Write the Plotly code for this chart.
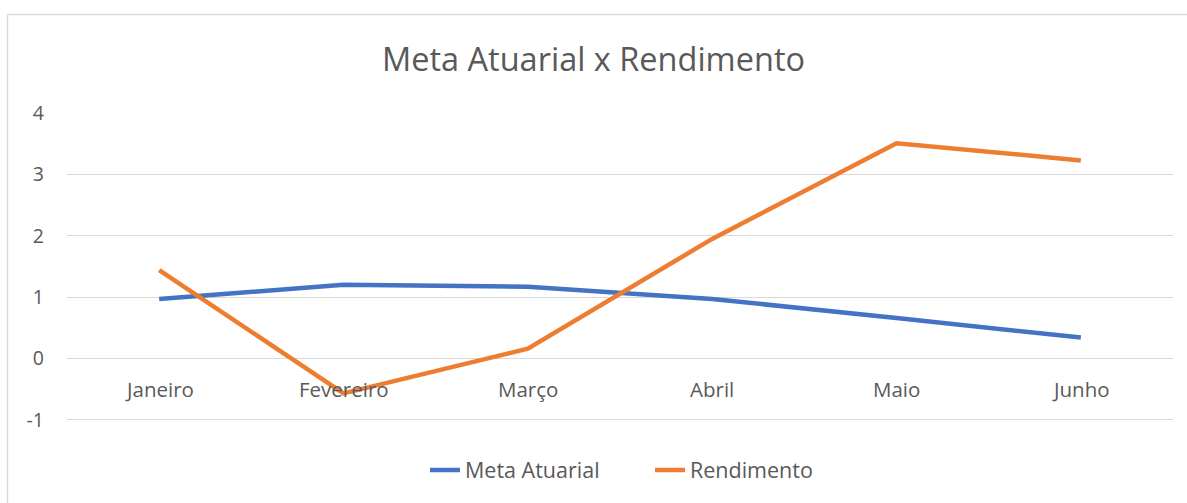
import plotly.graph_objects as go

months = ["Janeiro", "Fevereiro", "Março", "Abril", "Maio", "Junho"]
meta_atuarial = [0.97, 1.20, 1.17, 0.97, 0.66, 0.34]
rendimento = [1.44, -0.57, 0.16, 1.95, 3.51, 3.23]
y_ticks = [-1, 0, 1, 2, 3, 4]
y_tick_labels = ["-1", "0", "1", "2", "3", "4"]

W, H = 1187, 503
L, R, T, B = 67, 14, 113, 82
pw, ph = W - L - R, H - T - B

def px(x):
    return (x - L) / pw

def py(y):
    return (H - B - y) / ph

font = "Open Sans"
grey = "#595959"

fig = go.Figure()
fig.add_trace(go.Scatter(x=months, y=meta_atuarial, name="Meta Atuarial", mode="lines",
                         line=dict(color="#4472C4", width=4.5)))
fig.add_trace(go.Scatter(x=months, y=rendimento, name="Rendimento", mode="lines",
                         line=dict(color="#ED7D31", width=4.5)))

annotations = [dict(x=m, y=-0.5, xref="x", yref="y", text=m, showarrow=False,
                    font=dict(family=font, size=20.5, color=grey)) for m in months]

fig.update_layout(
    width=W, height=H,
    margin=dict(l=L, r=R, t=T, b=B),
    paper_bgcolor="white", plot_bgcolor="white",
    title=dict(text="Meta Atuarial x Rendimento", x=0.5, xanchor="center",
               y=1 - 60 / H, yanchor="middle",
               font=dict(family=font, size=32.5, color=grey)),
    xaxis=dict(showticklabels=False, showgrid=False, zeroline=False, showline=False,
               range=[-0.5, 5.5]),
    yaxis=dict(range=[-1.02, 4.003], tickvals=y_ticks, ticktext=y_tick_labels,
               showgrid=True, gridcolor="#D9D9D9",
               gridwidth=1.3, zeroline=False, showline=False, ticks="",
               ticklabelstandoff=22,
               tickfont=dict(family=font, size=19.5, color=grey)),
    legend=dict(orientation="h", x=0.5 + 30 / pw, xanchor="center", y=py(470), yanchor="middle",
                font=dict(family=font, size=21.5, color=grey),
                entrywidth=180, entrywidthmode="pixels",
                traceorder="normal"),
    annotations=annotations,
    shapes=[
        dict(type="line", xref="paper", yref="paper", x0=px(7.5), x1=px(W + 5),
             y0=py(14.5), y1=py(14.5), line=dict(color="#D9D9D9", width=1.5)),
        dict(type="line", xref="paper", yref="paper", x0=px(7.5), x1=px(7.5),
             y0=py(14.5), y1=py(H + 5), line=dict(color="#D9D9D9", width=1.5)),
    ],
)

fig.write_html("out.html", config={"displayModeBar": False},
               post_script="document.body.style.margin='0';document.body.style.overflow='hidden';")
